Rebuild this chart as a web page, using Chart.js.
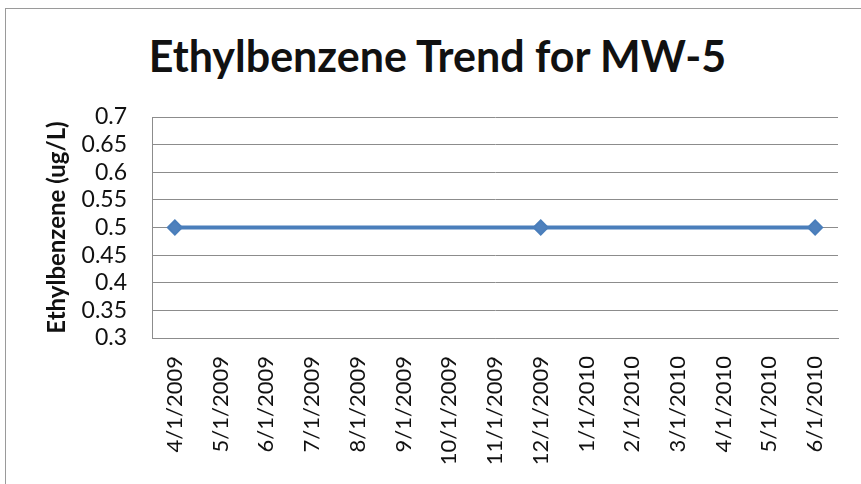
<!DOCTYPE html>
<html>
<head>
<meta charset="utf-8">
<script src="https://cdn.jsdelivr.net/npm/chart.js@4"></script>
<style>
  html, body { margin: 0; padding: 0; background: #fff; overflow: hidden; }
  #wrap { position: relative; width: 861px; height: 484px; }
  #frame { position: absolute; left: 5px; top: 8px; width: 880px; height: 500px; border: 1px solid #9a9a9a; box-sizing: border-box; }
  #title { position: absolute; left: 0; width: 875px; top: 34px; text-align: center; font: bold 43px Lato, sans-serif; color: #111; line-height: 1; margin: 0; }
  canvas { position: absolute; left: 0; top: 0; }
</style>
</head>
<body>
<div id="wrap">
  <div id="frame"></div>
  <h1 id="title">Ethylbenzene Trend for MW-5</h1>
  <canvas id="myChart" width="861" height="484"></canvas>
</div>
<script>
const sampleDates = ["4/1/2009", "5/1/2009", "6/1/2009", "7/1/2009", "8/1/2009", "9/1/2009", "10/1/2009",
    "11/1/2009", "12/1/2009", "1/1/2010", "2/1/2010", "3/1/2010", "4/1/2010", "5/1/2010", "6/1/2010"];
const ethylbenzene = [0.5, null, null, null, null, null, null, null, 0.5, null, null, null, null, null, 0.5];
const yMin = 0.3;
const yMax = 0.7;
const yStep = 0.05;

const blue = "#4a7ebb";

const ctx = document.getElementById("myChart").getContext("2d");

const myChart = new Chart(ctx, {
    type: "line",
    data: {
        labels: sampleDates,
        datasets: [
            {
                label: "Ethylbenzene",
                data: ethylbenzene,
                spanGaps: true,
                borderColor: blue,
                borderWidth: 4,
                backgroundColor: "#4f81bd",
                pointStyle: "rectRot",
                pointRadius: 7,
                pointBorderColor: "#4a7ebb",
                pointBorderWidth: 2,
                tension: 0,
                fill: false,
            },
        ],
    },
    options: {
        responsive: false,
        animation: false,
        layout: { padding: { left: 0, right: 23, top: 117, bottom: 0 } },
        plugins: {
            legend: { display: false },
            tooltip: { enabled: false },
        },
        scales: {
            x: {
                offset: true,
                grid: { display: false, drawTicks: false },
                border: { display: true, color: "#8c8c8c", width: 1 },
                ticks: {
                    autoSkip: false,
                    maxRotation: 90,
                    minRotation: 90,
                    padding: 18,
                    color: "#111",
                    font: { family: "Lato", size: 22 },
                },
                afterFit: (scale) => { scale.height = 146; },
            },
            y: {
                min: yMin,
                max: yMax,
                grid: { color: "#8c8c8c", drawTicks: false },
                border: { display: true, color: "#8c8c8c", width: 1 },
                ticks: {
                    autoSkip: false,
                    stepSize: yStep,
                    padding: 25,
                    color: "#111",
                    font: { family: "Lato", size: 23 },
                    callback: (v) => String(Number(v.toFixed(2))),
                },
                title: {
                    display: true,
                    text: "Ethylbenzene (ug/L)",
                    color: "#111",
                    font: { family: "Lato", size: 24, weight: "bold" },
                    padding: { top: 43, bottom: 0 },
                },
                afterFit: (scale) => { scale.width = 152; },
            },
        },
    },
});
</script>
</body>
</html>
